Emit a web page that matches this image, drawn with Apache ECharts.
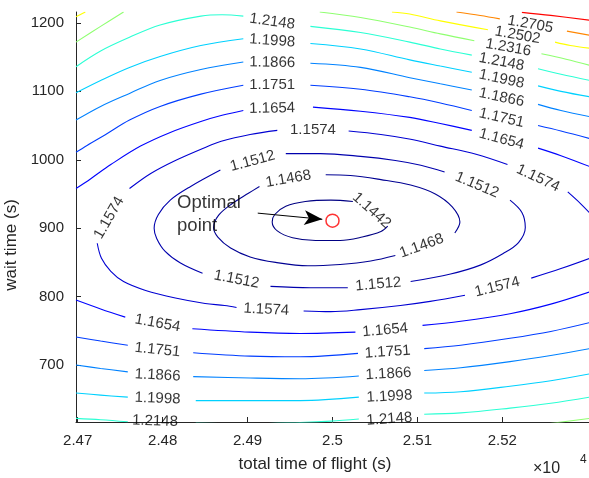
<!DOCTYPE html>
<html><head><meta charset="utf-8">
<script src="https://cdn.jsdelivr.net/npm/echarts@6/dist/echarts.min.js"></script>
<style>html,body{margin:0;padding:0;background:#fff}#chart{width:589px;height:478px}</style>
</head><body><div id="chart"></div>
<script>
// ---- data ----
const xTicks = [24700, 24800, 24900, 25000, 25100, 25200];
const yTicks = [700, 800, 900, 1000, 1100, 1200];
const levels = [1.1442, 1.1468, 1.1512, 1.1574, 1.1654, 1.1751, 1.1866, 1.1998, 1.2148, 1.2316, 1.2502, 1.2705, 1.2926];

// contour segments (broken where the labels sit): [x, y] in data units
const c1442 = [
  [[25024,939],[24998,941],[24968,939],[24945,932],[24932,920],[24929,909],[24935,896],[24953,886],[24980,882],[25009,882],[25035,887],[25057,895],[25065,903]]
];
const c1468 = [
  [[24992,978],[25021,977],[25057,971],[25092,963],[25121,950],[25141,931],[25150,909],[25144,893]],
  [[25074,860],[25045,852],[25009,847],[24971,845],[24933,850],[24903,858],[24880,871],[24865,887],[24860,901],[24866,919],[24882,936],[24901,951],[24914,961]]
];
const c1512 = [
  [[24945,1009],[24986,1009],[25033,1005],[25074,999],[25104,992],[25132,982]],
  [[25209,941],[25223,923],[25227,901],[25219,879],[25201,863],[25174,846],[25139,833],[25092,822]],
  [[25018,813],[24974,813],[24927,815]],
  [[24847,834],[24821,849],[24803,866],[24793,885],[24790,900],[24795,920],[24809,941],[24833,961],[24868,985]]
];
const c1574 = [
  [[24723,878],[24728,856],[24739,837],[24754,822],[24780,809],[24815,798],[24850,790],[24873,787],[24887,784]],
  [[24966,779],[24998,778],[25033,781],[25080,787],[25115,793],[25156,802]],
  [[25234,827],[25269,841],[25303,856]],
  [[25277,953],[25292,936],[25303,922]],
  [[25019,1042],[25057,1037],[25092,1030],[25127,1020],[25169,1008],[25206,993]],
  [[24761,958],[24786,980],[24815,999],[24848,1017],[24869,1027],[24903,1037],[24935,1043]]
];
const c1654 = [
  [[24698,958],[24715,972],[24739,993],[24774,1020],[24809,1040],[24845,1056],[24870,1065],[24895,1072]],
  [[24977,1077],[25033,1071],[25091,1062],[25127,1053],[25164,1043]],
  [[25242,1017],[25269,1006],[25303,990]],
  [[24698,795],[24727,782],[24756,770]],
  [[24835,753],[24903,748],[24962,746],[25027,748]],
  [[25106,758],[25151,764],[25209,775],[25257,789],[25303,807]]
];
const c1751 = [
  [[24698,1011],[24711,1021],[24733,1037],[24761,1058],[24797,1078],[24845,1096],[24895,1109]],
  [[24974,1109],[25033,1103],[25091,1092],[25127,1083],[25164,1072]],
  [[25242,1050],[25269,1042],[25303,1031]],
  [[24698,741],[24727,735],[24759,729]],
  [[24836,718],[24903,713],[24962,712],[25030,717]],
  [[25108,724],[25151,729],[25209,739],[25257,749],[25303,762]]
];
const c1866 = [
  [[24698,1058],[24727,1078],[24761,1097],[24797,1116],[24845,1132],[24895,1143]],
  [[24974,1141],[25033,1135],[25091,1120],[25127,1111],[25164,1102]],
  [[25242,1081],[25269,1072],[25303,1063]],
  [[24698,700],[24727,695],[24759,690]],
  [[24836,683],[24903,681],[24962,680],[25031,684]],
  [[25108,692],[25151,696],[25209,705],[25257,714],[25303,724]]
];
const c1998 = [
  [[24698,1098],[24727,1116],[24761,1135],[24797,1151],[24845,1167],[24895,1177]],
  [[24974,1170],[25033,1162],[25091,1146],[25127,1137],[25164,1128]],
  [[25242,1108],[25269,1100],[25303,1092]],
  [[24698,659],[24727,656],[24759,653]],
  [[24839,648],[24903,648],[24962,648],[25031,653]],
  [[25108,659],[25151,661],[25209,669],[25257,677],[25303,687]]
];
const c2148 = [
  [[24698,1136],[24727,1159],[24761,1179],[24797,1197],[24845,1210],[24870,1212],[24895,1210]],
  [[24974,1195],[25033,1186],[25091,1172],[25127,1162],[25164,1153]],
  [[25242,1133],[25269,1125],[25303,1116]],
  [[24698,622],[24727,620],[24759,617]],
  [[24839,615],[24903,614],[24962,616],[24998,618],[25031,621]],
  [[25108,628],[25151,630],[25209,637],[25257,644],[25303,653]]
];
const c2316 = [
  [[24698,1172],[24727,1195],[24754,1216]],
  [[24985,1216],[25033,1208],[25091,1194],[25127,1184],[25167,1174]],
  [[25246,1155],[25275,1147],[25303,1138]],
  [[25253,614],[25303,622]]
];
const c2502 = [
  [[24698,1209],[24709,1216]],
  [[25070,1216],[25091,1213],[25127,1203],[25183,1190]],
  [[25262,1172],[25280,1167],[25303,1163]]
];
const c2705 = [
  [[25146,1216],[25174,1211],[25197,1206]],
  [[25276,1188],[25303,1182]]
];
const c2926 = [
  [[25223,1215.5],[25257,1211],[25303,1204]]
];

// contour label anchors: [x, y, angle]
const lab1442 = [[25046,926,-42]];
const lab1468 = [[24948,972,10],[25105,874,20]];
const lab1512 = [[24906,998,15],[25170,963,-23],[25054,818,5],[24887,825,-11]];
const lab1574 = [[24977,1043,0],[25242,973,-25],[24737,915,60],[24922,781,-3],[25194,814,14]];
const lab1654 = [[24929,1075,1],[25199,1030,-15],[24794,761,-10],[25062,751,5]];
const lab1751 = [[24929,1109,0],[25199,1061,-13],[24794,722,-6],[25065,719,4]];
const lab1866 = [[24929,1142,-1],[25199,1091,-12],[24794,685,-3],[25066,687,3]];
const lab1998 = [[24929,1174,-4],[25199,1118,-12],[24794,651,-2],[25067,654,3]];
const lab2148 = [[24929,1202,-8],[25199,1143,-11],[24791,618,-2],[25067,621,4]];
const lab2316 = [[25207,1164,-10]];
const lab2502 = [[25218,1182,-10]];
const lab2705 = [[25233,1198,-10]];
const lab2926 = [];

const optimum = [25000, 911];
const arrowFrom = [24912, 922];
const arrowTo = [24988, 913];
const noteAnchor = [24817, 920];

// ---- styles ----
const levelColors = ['#000083','#000093','#0000ad','#0000d2','#0003ff','#003dff','#0082ff','#00d1ff','#2bffd4','#8fff70','#ffff00','#ff8600','#ff0300'];
const FONT = "'Liberation Sans', Arial, Helvetica, sans-serif";
const AX = '#262626';

const contours = [c1442,c1468,c1512,c1574,c1654,c1751,c1866,c1998,c2148,c2316,c2502,c2705,c2926];
const labelSets = [lab1442,lab1468,lab1512,lab1574,lab1654,lab1751,lab1866,lab1998,lab2148,lab2316,lab2502,lab2705,lab2926];

const series = [];
contours.forEach((segs, i) => {
  segs.forEach(seg => series.push({
    type: 'line', data: seg, smooth: 0.35, symbol: 'none', silent: true,
    lineStyle: { color: levelColors[i], width: 1.1 }, clip: true, z: 2
  }));
});
labelSets.forEach((labs, i) => {
  if (!labs.length) return;
  const txt = levels[i].toFixed(4);
  series.push({
    type: 'scatter', symbolSize: 0, silent: true, clip: false, z: 5,
    data: labs.map(l => ({ value: [l[0], l[1]], label: { rotate: l[2] } })),
    label: { show: true, position: 'inside', formatter: txt, color: '#000',
      textBorderWidth: 0, fontSize: 15, fontFamily: FONT, align: 'center', verticalAlign: 'middle' }
  });
});
// optimal point marker
series.push({
  type: 'scatter', data: [optimum], symbol: 'circle', symbolSize: 13, silent: true, z: 6,
  itemStyle: { color: 'rgba(0,0,0,0)', borderColor: '#ff0000', borderWidth: 1.5 }
});
// arrow
series.push({
  type: 'line', data: [], silent: true, z: 6,
  markLine: {
    silent: true, animation: false, symbol: ['none', 'arrow'], symbolSize: [11, 18],
    label: { show: false },
    lineStyle: { color: '#000', width: 1, type: 'solid' },
    data: [[{ coord: arrowFrom }, { coord: arrowTo }]]
  }
});
// annotation text
series.push({
  type: 'scatter', data: [noteAnchor], symbolSize: 0, silent: true, clip: false, z: 6,
  label: { show: true, position: 'inside', formatter: 'Optimal\npoint', color: '#000',
    textBorderWidth: 0, fontSize: 18.5, lineHeight: 23, fontFamily: FONT, align: 'left', verticalAlign: 'middle' }
});

const chart = echarts.init(document.getElementById('chart'));
chart.setOption({
  animation: false,
  backgroundColor: '#fff',
  grid: { left: 76, right: 0, top: 12, bottom: 56, containLabel: false, outerBoundsMode: 'none' },
  xAxis: {
    type: 'value', min: 24698, max: 25302,
    axisLine: { show: true, lineStyle: { color: AX, width: 1 } },
    axisTick: { show: true, inside: true, length: 5, customValues: xTicks, lineStyle: { color: AX } },
    axisLabel: { customValues: xTicks, color: AX, fontSize: 15, fontFamily: FONT, margin: 11,
      formatter: v => String(Math.round(v / 100) / 100) },
    splitLine: { show: false },
    name: 'total time of flight (s)', nameLocation: 'middle', nameGap: 34,
    nameTextStyle: { color: AX, fontSize: 17, fontFamily: FONT, padding: [0, 35, 0, 0] }
  },
  yAxis: {
    type: 'value', min: 616.7, max: 1216,
    axisLine: { show: true, lineStyle: { color: AX, width: 1 } },
    axisTick: { show: true, inside: true, length: 5, customValues: yTicks, lineStyle: { color: AX } },
    axisLabel: { customValues: yTicks, color: AX, fontSize: 15, fontFamily: FONT, margin: 12,
      formatter: v => String(v) },
    splitLine: { show: false },
    name: 'wait time (s)', nameLocation: 'middle', nameGap: 46, nameRotate: 90,
    nameTextStyle: { color: AX, fontSize: 17, fontFamily: FONT, padding: [0, 56, 0, 0] }
  },
  graphic: [
    { type: 'text', x: 533, y: 461, style: { text: '×10', fill: AX, font: '16px ' + FONT } },
    { type: 'text', x: 580, y: 454, style: { text: '4', fill: AX, font: '12px ' + FONT } }
  ],
  series: series
});
</script>
</body></html>
